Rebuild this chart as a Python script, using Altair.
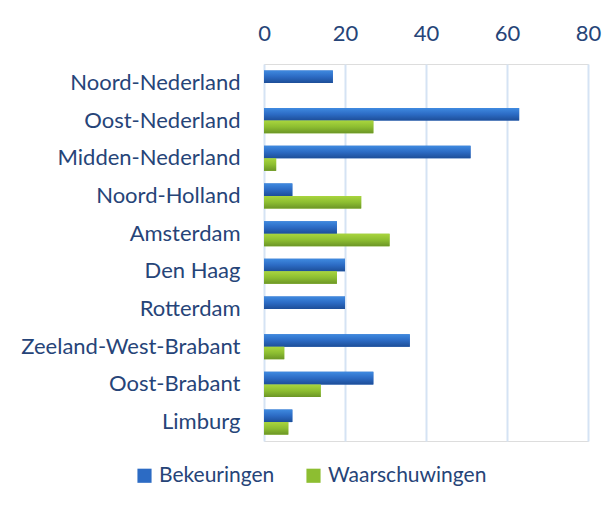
import altair as alt
import pandas as pd

categories = ["Noord-Nederland", "Oost-Nederland", "Midden-Nederland", "Noord-Holland",
              "Amsterdam", "Den Haag", "Rotterdam", "Zeeland-West-Brabant",
              "Oost-Brabant", "Limburg"]
series = ["Bekeuringen", "Waarschuwingen"]
bekeuringen = [17, 63, 51, 7, 18, 20, 20, 36, 27, 7]
waarschuwingen = [0, 27, 3, 24, 31, 18, 0, 5, 14, 6]
x_ticks = [0, 20, 40, 60, 80]

rows = []
for c, b, w in zip(categories, bekeuringen, waarschuwingen):
    rows.append({"regio": c, "serie": series[0], "waarde": b})
    rows.append({"regio": c, "serie": series[1], "waarde": w})
df = pd.DataFrame(rows)

TXT = "#264478"
FONT = "Lato"
FS = 22

blue_grad = {"gradient": "linear", "x1": 0, "y1": 0, "x2": 0, "y2": 1,
             "stops": [{"offset": 0, "color": "#3F8AE0"},
                       {"offset": 0.5, "color": "#2C6BC4"},
                       {"offset": 1, "color": "#1D4E98"}]}
green_grad = {"gradient": "linear", "x1": 0, "y1": 0, "x2": 0, "y2": 1,
              "stops": [{"offset": 0, "color": "#A9D53E"},
                        {"offset": 0.5, "color": "#8DBE31"},
                        {"offset": 1, "color": "#6C9626"}]}

x_enc = alt.X("waarde:Q",
              scale=alt.Scale(domain=[0, 80], nice=False),
              axis=alt.Axis(orient="top", values=x_ticks, title=None, ticks=False,
                            domain=False, labelPadding=19, labelFontSize=FS,
                            labelColor=TXT, labelFont=FONT, grid=True, labelFlush=False,
                            gridColor="#D5E3F4", gridWidth=2))
y_enc = alt.Y("regio:N", sort=categories,
              scale=alt.Scale(paddingInner=0.335, paddingOuter=0.17),
              axis=alt.Axis(title=None, ticks=False, domain=False, labelPadding=24,
                            labelFontSize=FS, labelColor=TXT, labelFont=FONT,
                            labelLimit=400))
yoff = alt.YOffset("serie:N", sort=series, scale=alt.Scale(paddingInner=0, paddingOuter=0))

base = alt.Chart(df).mark_bar().encode(
    x=x_enc, y=y_enc, yOffset=yoff,
    color=alt.Color("serie:N", sort=series,
                    scale=alt.Scale(domain=series, range=["#2C6BC4", "#8DBE31"]),
                    legend=alt.Legend(title=None, orient="none", legendX=-130, legendY=401,
                                      direction="horizontal", symbolType="square",
                                      symbolSize=200, symbolStrokeWidth=0,
                                      labelFontSize=21, labelColor=TXT, labelFont=FONT,
                                      columnPadding=28, labelOffset=4, labelLimit=400))
)

blue = alt.Chart(df).transform_filter(alt.datum.serie == series[0]).mark_bar(
    color=blue_grad).encode(x="waarde:Q", y=alt.Y("regio:N", sort=categories), yOffset=yoff)
green = alt.Chart(df).transform_filter(alt.datum.serie == series[1]).mark_bar(
    color=green_grad).encode(x="waarde:Q", y=alt.Y("regio:N", sort=categories), yOffset=yoff)

chart = alt.layer(base, blue, green).properties(
    width=324, height=377,
    autosize=alt.AutoSizeParams(type="none"),
    padding={"left": 256, "top": 56, "right": 14, "bottom": 60},
).configure_view(strokeWidth=0, stroke="transparent").configure(background="white")

chart.save("out.html", embed_options={"renderer": "svg", "actions": False})
